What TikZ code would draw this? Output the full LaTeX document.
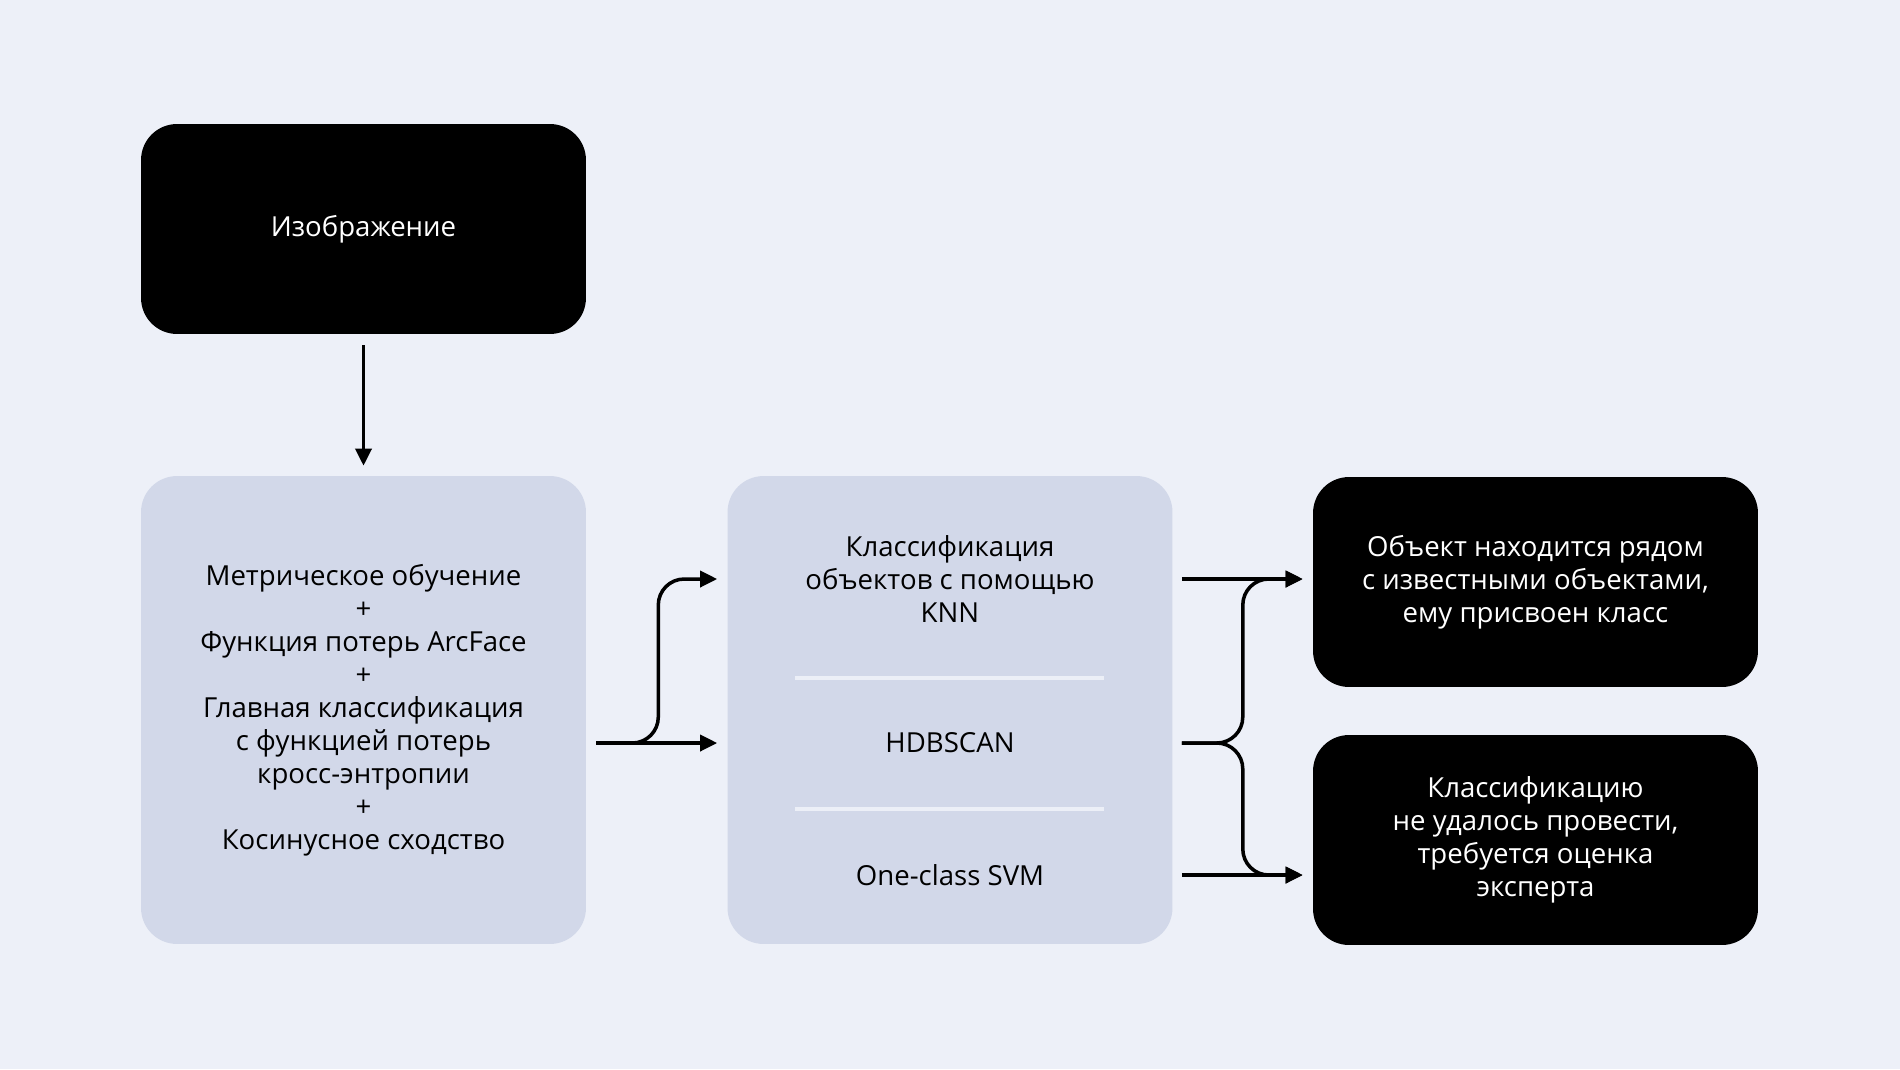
\documentclass[tikz,border=0pt]{standalone}
\usepackage{fontspec}
\setmainfont{Open Sans}
\usetikzlibrary{arrows.meta}
\definecolor{bgcol}{HTML}{EDF0F8}
\definecolor{boxcol}{HTML}{D2D8E9}
\definecolor{sepcol}{HTML}{ECEFF7}
\tikzset{
  darkbox/.style={fill=black,text=white,rounded corners=0.72cm,minimum width=8.9cm,minimum height=4.2cm,align=center,font=\fontsize{15.7}{18.8}\selectfont},
  lightbox/.style={fill=boxcol,text=black,rounded corners=0.72cm,minimum width=8.9cm,minimum height=9.36cm},
  label/.style={align=center,font=\fontsize{15.7}{18.8}\selectfont},
  arr/.style={line width=2pt,-{Triangle[length=0.34cm,width=0.32cm]}},
}
\begin{document}
\begin{tikzpicture}[x=0.02cm,y=-0.02cm]
  \fill[bgcol] (0,0) rectangle (1900,1069);
  \useasboundingbox (0,0) rectangle (1900,1069);
  \node[darkbox] (img) at (363.5,229) {Изображение};
  \node[lightbox] (feat) at (363.5,710) {};
  \node[label] at (feat) {Метрическое обучение\\+\\Функция потерь ArcFace\\+\\Главная классификация\\с функцией потерь\\кросс-энтропии\\+\\Косинусное сходство};
  \node[lightbox] (mid) at (950,710) {};
  \node[label] (knn) at (950,579) {Классификация\\объектов с помощью\\KNN};
  \node[label] (hdb) at (950,743) {HDBSCAN};
  \node[label] (svm) at (950,875) {One-class SVM};
  \draw[sepcol,line width=2pt] (795,678) -- (1104,678);
  \draw[sepcol,line width=2pt] (795,809) -- (1104,809);
  \node[darkbox] (near) at (1535.5,582) {Объект находится рядом\\с известными объектами,\\ему присвоен класс};
  \node[darkbox] (expert) at (1535.5,840) {Классификацию\\не удалось провести,\\требуется оценка\\эксперта};
  \draw[arr] ([yshift=-0.22cm]img.south) -- ([yshift=0.2cm]feat.north);
  \draw[arr] ([xshift=0.2cm]feat.east |- hdb) -- ([xshift=-0.2cm]mid.west |- hdb);
  \draw[arr,rounded corners=0.52cm] ([xshift=0.2cm]feat.east |- hdb) -- ([xshift=1.44cm]feat.east |- hdb) -- ([xshift=1.44cm]feat.east |- knn) -- ([xshift=-0.2cm]mid.west |- knn);
  \draw[arr] ([xshift=0.18cm]mid.east |- knn) -- ([xshift=-0.2cm]near.west |- knn);
  \draw[arr] ([xshift=0.18cm]mid.east |- svm) -- ([xshift=-0.2cm]expert.west |- svm);
  \draw[arr,rounded corners=0.52cm] ([xshift=0.18cm]mid.east |- hdb) -- ([xshift=1.4cm]mid.east |- hdb) -- ([xshift=1.4cm]mid.east |- knn) -- ([xshift=-0.2cm]near.west |- knn);
  \draw[arr,rounded corners=0.52cm] ([xshift=0.18cm]mid.east |- hdb) -- ([xshift=1.4cm]mid.east |- hdb) -- ([xshift=1.4cm]mid.east |- svm) -- ([xshift=-0.2cm]expert.west |- svm);
\end{tikzpicture}
\end{document}
